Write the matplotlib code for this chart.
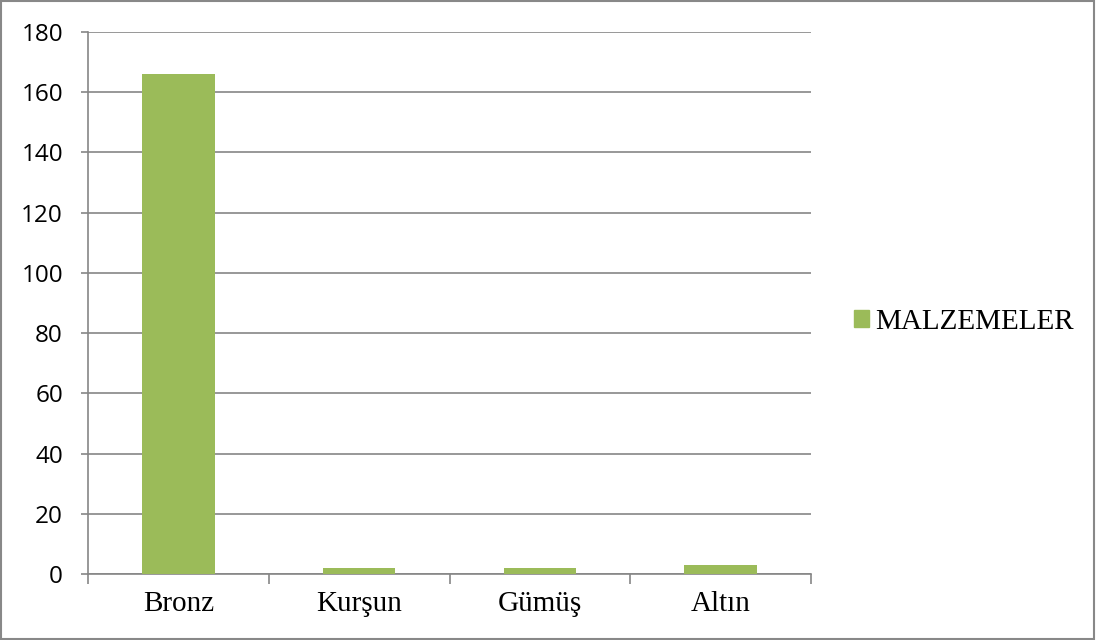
import matplotlib.pyplot as plt
import matplotlib.patches as mpatches
import numpy as np

categories = ['Bronz', 'Kurşun', 'Gümüş', 'Altın']
values = [166, 2, 2, 3]
series_name = 'MALZEMELER'

bar_color = '#9BBB59'
grid_color = '#868686'

fig = plt.figure(figsize=(10.96, 6.4), dpi=100)
ax = fig.add_axes([88 / 1096, 66 / 640, 723 / 1096, 542 / 640])

x = np.arange(len(categories))
ax.bar(x, values, width=0.4, color=bar_color, zorder=3, label=series_name)

ax.set_xlim(-0.5, len(categories) - 0.5)
ax.set_ylim(0, 180)
ax.set_yticks(np.arange(0, 181, 20))
ax.yaxis.grid(True, color=grid_color, linewidth=1.2, zorder=0)

for s in ['top', 'right']:
    ax.spines[s].set_visible(False)
for s in ['left', 'bottom']:
    ax.spines[s].set_color(grid_color)
    ax.spines[s].set_linewidth(1.2)

# category ticks sit between the bars
ax.set_xticks(np.arange(-0.5, len(categories)), minor=False)
ax.set_xticklabels([''] * (len(categories) + 1))
ax.set_xticks(x, minor=True)
ax.set_xticklabels(categories, minor=True, fontfamily='Liberation Serif', fontsize=21)
ax.tick_params(axis='x', which='major', length=7, color=grid_color, width=1.2)
ax.tick_params(axis='x', which='minor', length=0, pad=12)
ax.tick_params(axis='y', length=5, color=grid_color, width=1.2, labelsize=17.5, pad=13)
for lbl in ax.get_yticklabels():
    lbl.set_fontfamily('Open Sans')

handle = mpatches.Patch(color=bar_color, label=series_name)
fig.legend(handles=[handle], loc='center left', bbox_to_anchor=(854 / 1096, 1 - 322 / 640),
           frameon=False, prop={'family': 'Liberation Serif', 'size': 21},
           borderpad=0, borderaxespad=0,
           handlelength=0.5, handleheight=0.5, handletextpad=0.23)

border = mpatches.Rectangle((0.001, 0.001), 0.997, 0.997, transform=fig.transFigure,
                            fill=False, edgecolor='#888888', linewidth=1.5)
fig.patches.append(border)

fig.savefig('out.png', dpi=100)
